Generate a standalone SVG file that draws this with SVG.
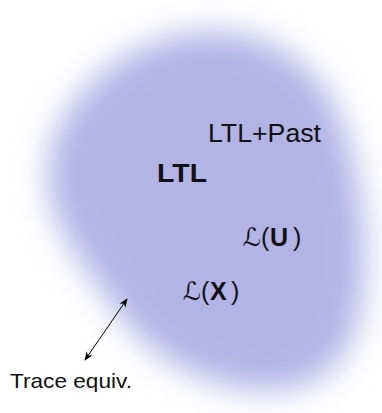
<svg xmlns="http://www.w3.org/2000/svg" width="382" height="413" viewBox="0 0 382 413">
<style>
.t{font-family:"Liberation Sans","DejaVu Sans",sans-serif;fill:#111}
.sc{font-family:"DejaVu Serif","DejaVu Sans",serif;font-style:italic}
.b{font-weight:bold}
.conn{stroke:#000;stroke-width:1;fill:none}
</style>
<defs>
<filter id="blur" x="-30%" y="-30%" width="160%" height="160%">
<feGaussianBlur stdDeviation="16"/>
</filter>
<marker id="ah" viewBox="0 0 10 10" refX="9" refY="5" markerWidth="9" markerHeight="9" markerUnits="userSpaceOnUse" orient="auto-start-reverse">
<path d="M0,1 L10,5 L0,9 L3,5 Z" fill="#000"/>
</marker>
</defs>
<rect width="382" height="413" fill="#fff"/>
<g id="region">
<path d="M205 32 C270 28 325 68 345 130 C365 192 372 265 357 325 C340 382 292 398 240 388 C180 377 140 345 112 305 C82 262 45 222 48 170 C52 100 127 35 205 32 Z" fill="#b3b3e6" filter="url(#blur)"/>
</g>
<g id="ltlpast"><text class="t" x="208" y="142" font-size="25" textLength="113" lengthAdjust="spacingAndGlyphs">LTL+Past</text></g>
<g id="ltl"><text class="t b" x="157" y="182" font-size="26" textLength="50" lengthAdjust="spacingAndGlyphs">LTL</text></g>
<g id="lu"><text class="t" x="243" y="246" font-size="25"><tspan class="sc">ℒ</tspan><tspan x="261">(</tspan><tspan class="b" x="270">U</tspan><tspan x="293">)</tspan></text></g>
<g id="lx"><text class="t" x="183" y="300" font-size="25"><tspan class="sc">ℒ</tspan><tspan x="201">(</tspan><tspan class="b" x="210">X</tspan><tspan x="231">)</tspan></text></g>
<g id="trace"><text class="t" x="10" y="388" font-size="21" textLength="122" lengthAdjust="spacingAndGlyphs">Trace equiv.</text></g>
<g id="connectors">
<line class="conn" x1="85" y1="360" x2="127" y2="299" marker-start="url(#ah)" marker-end="url(#ah)"/>
</g>
</svg>
